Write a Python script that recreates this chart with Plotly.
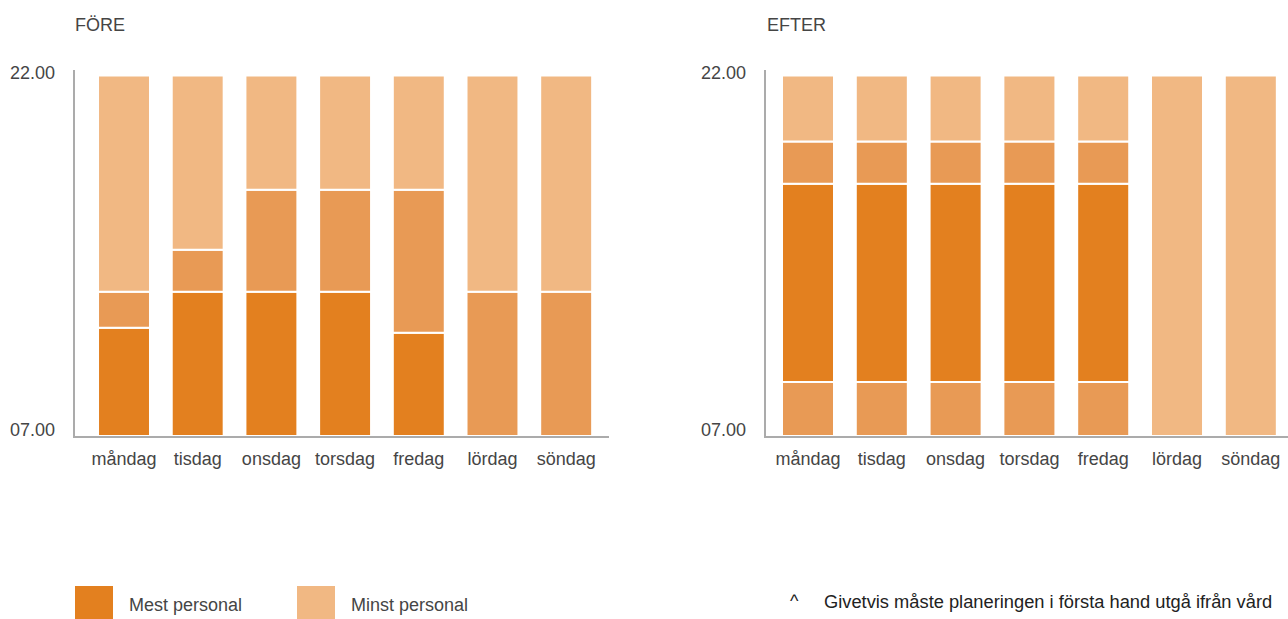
import plotly.graph_objects as go

# ---------------- data ----------------
dagar = ["måndag", "tisdag", "onsdag", "torsdag", "fredag", "lördag", "söndag"]
y_ticks = [7, 22]
y_ticktext = ["07.00", "22.00"]

# FÖRE (hours of day)
fore_mest_start = [7, 7, 7, 7, 7, None, None]
fore_mest_slut = [11.5, 13, 13, 13, 11.3, None, None]
fore_mellan_start = [11.5, 13, 13, 13, 11.3, 7, 7]
fore_mellan_slut = [13, 14.75, 17.25, 17.25, 17.25, 13, 13]
fore_minst_start = [13, 14.75, 17.25, 17.25, 17.25, 13, 13]
fore_minst_slut = [22, 22, 22, 22, 22, 22, 22]

# EFTER
efter_mellan_morgon_start = [7, 7, 7, 7, 7, None, None]
efter_mellan_morgon_slut = [9.25, 9.25, 9.25, 9.25, 9.25, None, None]
efter_mest_start = [9.25, 9.25, 9.25, 9.25, 9.25, None, None]
efter_mest_slut = [17.5, 17.5, 17.5, 17.5, 17.5, None, None]
efter_mellan_kvall_start = [17.5, 17.5, 17.5, 17.5, 17.5, None, None]
efter_mellan_kvall_slut = [19.25, 19.25, 19.25, 19.25, 19.25, None, None]
efter_minst_start = [19.25, 19.25, 19.25, 19.25, 19.25, 7, 7]
efter_minst_slut = [22, 22, 22, 22, 22, 22, 22]

# ---------------- style ----------------
C_MEST = "#E3801F"
C_MELLAN = "#E89A55"
C_MINST = "#F1B883"
TXT = "#454545"
AX = "#ababab"
FONT = "Liberation Sans, Arial, sans-serif"
W, H = 1288, 619


def seg(start, slut, color, xa, ya):
    xs, ys, bs = [], [], []
    for i, (s, e) in enumerate(zip(start, slut)):
        if s is None or e is None:
            continue
        xs.append(i)
        bs.append(s)
        ys.append(e - s)
    return go.Bar(x=xs, y=ys, base=bs, width=0.705,
                  marker=dict(color=color, line=dict(color="white", width=2)),
                  xaxis=xa, yaxis=ya, showlegend=False, hoverinfo="skip")


fig = go.Figure()
fig.add_trace(seg(fore_mest_start, fore_mest_slut, C_MEST, "x", "y"))
fig.add_trace(seg(fore_mellan_start, fore_mellan_slut, C_MELLAN, "x", "y"))
fig.add_trace(seg(fore_minst_start, fore_minst_slut, C_MINST, "x", "y"))

fig.add_trace(seg(efter_mellan_morgon_start, efter_mellan_morgon_slut, C_MELLAN, "x2", "y2"))
fig.add_trace(seg(efter_mest_start, efter_mest_slut, C_MEST, "x2", "y2"))
fig.add_trace(seg(efter_mellan_kvall_start, efter_mellan_kvall_slut, C_MELLAN, "x2", "y2"))
fig.add_trace(seg(efter_minst_start, efter_minst_slut, C_MINST, "x2", "y2"))

y_dom = [(H - 436) / H, (H - 70) / H]
y_range = [7, 22.23]

xcommon = dict(tickmode="array", tickvals=list(range(len(dagar))), ticktext=dagar,
               showline=True, linecolor=AX, linewidth=2, ticks="", showgrid=False,
               zeroline=False, fixedrange=True, ticklabelstandoff=5,
               tickfont=dict(family=FONT, size=18, color=TXT))
ycommon = dict(range=y_range, domain=y_dom, showline=True, linecolor=AX, linewidth=2,
               showticklabels=False, ticks="", showgrid=False, zeroline=False,
               fixedrange=True, tickvals=y_ticks)

fig.update_layout(
    width=W, height=H, autosize=False,
    margin=dict(l=0, r=0, t=0, b=0),
    paper_bgcolor="white", plot_bgcolor="white",
    barmode="overlay",
    xaxis=dict(domain=[75 / W, 609 / W], range=[-0.665, 6.581], anchor="y", **xcommon),
    yaxis=dict(anchor="x", **ycommon),
    xaxis2=dict(domain=[765.5 / W, 1.0], range=[-0.576, 6.504], anchor="y2", **xcommon),
    yaxis2=dict(anchor="x2", **ycommon),
)

ann = []
# panel titles
ann.append(dict(text="FÖRE", x=72.5 / W, y=(H - 25) / H, xref="paper", yref="paper",
                xanchor="left", yanchor="middle", showarrow=False,
                font=dict(family=FONT, size=18, color=TXT)))
ann.append(dict(text="EFTER", x=765 / W, y=(H - 25) / H, xref="paper", yref="paper",
                xanchor="left", yanchor="middle", showarrow=False,
                font=dict(family=FONT, size=18, color=TXT)))
# y tick labels
for ya, xa in (("y", "x"), ("y2", "x2")):
    for v, t, sh in zip(y_ticks, y_ticktext, [6.5, 3]):
        ann.append(dict(text=t, x=0, xref=xa + " domain", y=v, yref=ya,
                        xanchor="right", yanchor="middle", xshift=-18, yshift=sh,
                        showarrow=False, font=dict(family=FONT, size=18, color=TXT)))

# legend
legend_items = [("Mest personal", C_MEST, 75), ("Minst personal", C_MINST, 297)]
shapes = []
for name, col, x0 in legend_items:
    shapes.append(dict(type="rect", xref="paper", yref="paper",
                       x0=x0 / W, x1=(x0 + 38) / W, y0=(H - 625) / H, y1=(H - 586) / H,
                       fillcolor=col, line=dict(width=0)))
    ann.append(dict(text=name, x=(x0 + 52) / W, y=(H - 605) / H, xref="paper", yref="paper",
                    xanchor="left", yanchor="middle", showarrow=False,
                    font=dict(family=FONT, size=18, color=TXT)))

# footnote
ann.append(dict(text="^", x=788 / W, y=(H - 601) / H, xref="paper", yref="paper",
                xanchor="left", yanchor="middle", showarrow=False,
                font=dict(family=FONT, size=18, color="#222")))
ann.append(dict(text="Givetvis måste planeringen i första hand utgå ifrån vård",
                x=822 / W, y=(H - 601) / H, xref="paper", yref="paper",
                xanchor="left", yanchor="middle", showarrow=False,
                font=dict(family=FONT, size=18.3, color="#222")))

fig.update_layout(annotations=ann, shapes=shapes)
fig.write_html("out.html")
